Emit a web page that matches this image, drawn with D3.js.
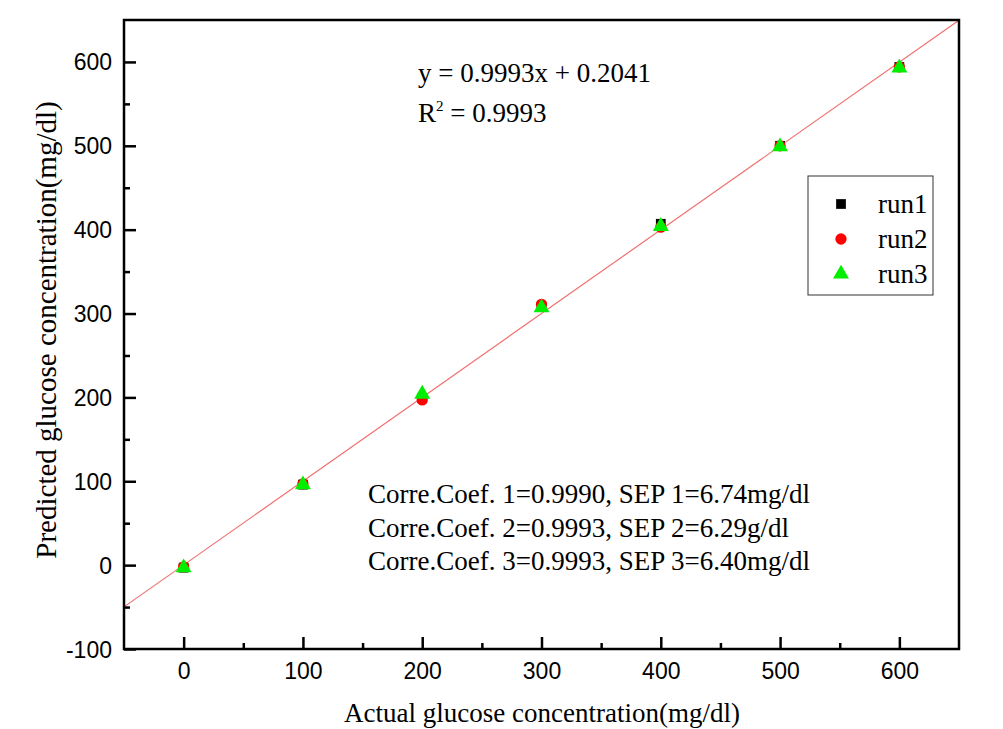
<!DOCTYPE html>
<html lang="en">
<head>
    <meta charset="UTF-8">
    <title>Predicted vs Actual Glucose</title>
    <script src="https://d3js.org/d3.v7.min.js"></script>
    <style>
        body { margin: 0; background: #fff; }
        .tick-label { font-family: "Liberation Sans", Arial, sans-serif; font-size: 23px; fill: #000; }
        .serif { font-family: "Liberation Serif", "Times New Roman", serif; fill: #000; }
    </style>
</head>
<body>
    <svg width="1003" height="729"></svg>

    <script>
        // data
        const actual = [0, 100, 200, 300, 400, 500, 600];
        const run1 = [-3, 96, 199, 308, 407, 500, 594];
        const run2 = [-2, 97, 197, 311, 403, 500, 594];
        const run3 = [-3, 96, 204, 307, 404, 499, 593];
        const fit = { slope: 0.9993, intercept: 0.2041 };
        const xTicks = [0, 100, 200, 300, 400, 500, 600];
        const yTicks = [-100, 0, 100, 200, 300, 400, 500, 600];
        const statLines = [
            "Corre.Coef. 1=0.9990, SEP 1=6.74mg/dl",
            "Corre.Coef. 2=0.9993, SEP 2=6.29g/dl",
            "Corre.Coef. 3=0.9993, SEP 3=6.40mg/dl"
        ];

        const margin = { top: 20, right: 44, bottom: 80, left: 124 };
        const width = 1003 - margin.left - margin.right;
        const height = 729 - margin.top - margin.bottom;

        const svg = d3.select("svg")
            .append("g")
            .attr("transform", `translate(${margin.left},${margin.top})`);

        const x = d3.scaleLinear().domain([-50, 650]).range([0, width]);
        const y = d3.scaleLinear().domain([-100, 650]).range([height, 0]);

        // fit line
        svg.append("line")
            .attr("x1", x(-50)).attr("y1", y(fit.slope * -50 + fit.intercept))
            .attr("x2", x(650)).attr("y2", y(fit.slope * 650 + fit.intercept))
            .attr("stroke", "#f07070")
            .attr("stroke-width", 1.2);

        // points
        const series = [
            { name: "run1", vals: run1, color: "#000", shape: d3.symbolSquare, size: 95 },
            { name: "run2", vals: run2, color: "#ff0000", shape: d3.symbolCircle, size: 100 },
            { name: "run3", vals: run3, color: "#00ee00", shape: d3.symbolTriangle, size: 110 }
        ];

        series.forEach(s => {
            svg.selectAll(".pt-" + s.name)
                .data(actual)
                .enter().append("path")
                .attr("d", d3.symbol().type(s.shape).size(s.size))
                .attr("transform", (d, i) => `translate(${x(d)},${y(s.vals[i])})`)
                .attr("fill", s.color);
        });

        // axes (ticks inward)
        const fmt = d => String(d);
        const xAxis = svg.append("g").attr("transform", `translate(0,${height})`);
        xAxis.call(d3.axisBottom(x).tickValues(xTicks).tickSize(-12).tickFormat(fmt));
        xAxis.append("g").call(d3.axisBottom(x).tickValues(d3.range(50, 650, 100)).tickSize(-6).tickFormat(""));

        const yAxis = svg.append("g");
        yAxis.call(d3.axisLeft(y).tickValues(yTicks).tickSize(-12).tickFormat(fmt));
        yAxis.append("g").call(d3.axisLeft(y).tickValues(d3.range(-50, 650, 100)).tickSize(-6).tickFormat(""));

        svg.selectAll(".domain").remove();
        svg.selectAll(".tick line").attr("stroke", "#000").attr("stroke-width", 2.5);
        xAxis.selectAll(".tick text").attr("class", "tick-label").attr("dy", null).attr("y", 30);
        yAxis.selectAll(".tick text").attr("class", "tick-label").attr("x", -12).attr("dy", "0.35em");

        // frame
        svg.append("rect")
            .attr("width", width).attr("height", height)
            .attr("fill", "none").attr("stroke", "#000").attr("stroke-width", 2.5);

        // axis titles
        svg.append("text")
            .attr("class", "serif")
            .attr("x", 542 - margin.left).attr("y", 702)
            .attr("text-anchor", "middle")
            .style("font-size", "27px")
            .text("Actual glucose concentration(mg/dl)");

        svg.append("text")
            .attr("class", "serif")
            .attr("transform", "rotate(-90)")
            .attr("x", -(330 - margin.top)).attr("y", 56 - margin.left)
            .attr("text-anchor", "middle")
            .style("font-size", "29px")
            .text("Predicted glucose concentration(mg/dl)");

        // equation
        svg.append("text")
            .attr("class", "serif")
            .attr("x", 294).attr("y", 62)
            .style("font-size", "27px")
            .text("y = 0.9993x + 0.2041");

        const r2 = svg.append("text")
            .attr("class", "serif")
            .attr("x", 294).attr("y", 102)
            .style("font-size", "27px");
        r2.append("tspan").text("R");
        r2.append("tspan").attr("dy", -11).style("font-size", "15px").text("2");
        r2.append("tspan").attr("dy", 11).text(" = 0.9993");

        // stats block
        svg.selectAll(".stat")
            .data(statLines)
            .enter().append("text")
            .attr("class", "serif")
            .attr("x", 244)
            .attr("y", (d, i) => 483 + i * 33.5)
            .style("font-size", "27px")
            .text(d => d);

        // legend
        const legend = svg.append("g").attr("transform", `translate(${808 - margin.left},${176 - margin.top})`);
        legend.append("rect")
            .attr("width", 125).attr("height", 119)
            .attr("fill", "#fff").attr("stroke", "#333").attr("stroke-width", 1);

        series.forEach((s, i) => {
            legend.append("path")
                .attr("d", d3.symbol().type(s.shape).size(s.size))
                .attr("transform", `translate(33,${28 + i * 35})`)
                .attr("fill", s.color);
            legend.append("text")
                .attr("class", "serif")
                .attr("x", 70).attr("y", 28 + i * 35)
                .attr("dy", "0.35em")
                .style("font-size", "27px")
                .text(s.name);
        });
    </script>
</body>
</html>
